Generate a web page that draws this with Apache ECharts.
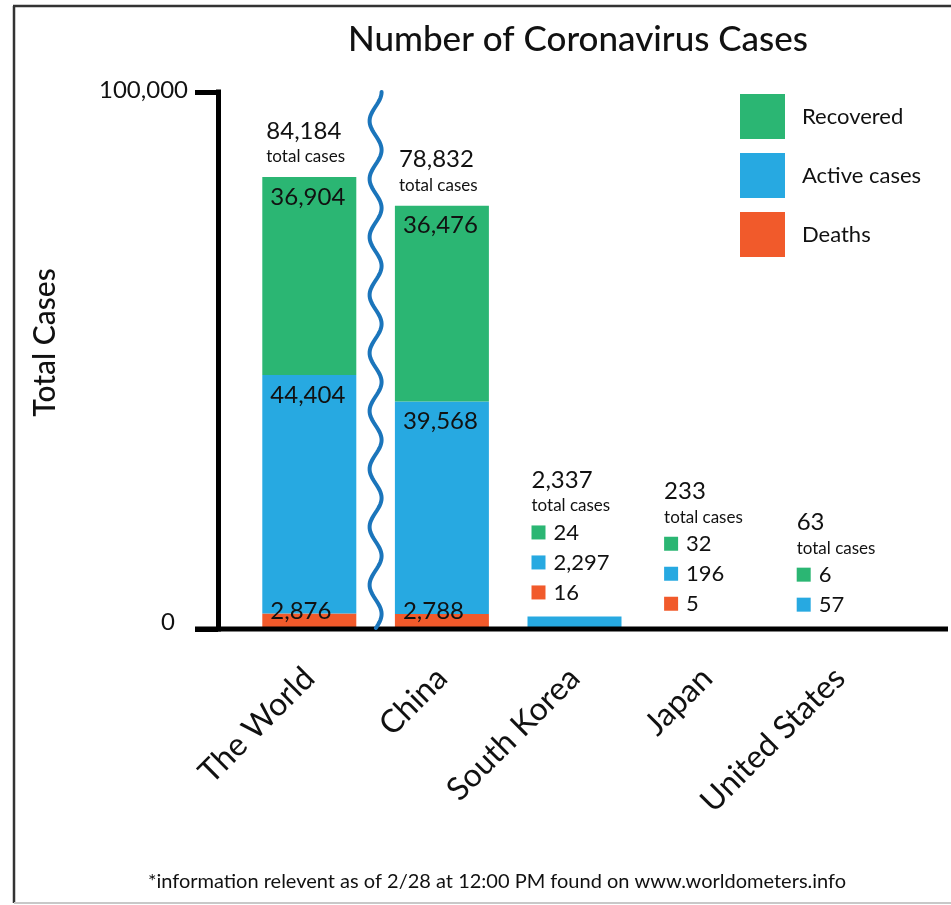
<!DOCTYPE html>
<html>
<head>
<meta charset="utf-8">
<title>Number of Coronavirus Cases</title>
<script src="https://cdn.jsdelivr.net/npm/echarts@6/dist/echarts.min.js"></script>
<style>
  html, body { margin: 0; padding: 0; background: #fff; }
  #chart { width: 951px; height: 905px; }
</style>
</head>
<body>
<div id="chart"></div>
<script>
// Case counts as of 2/28, 12:00 PM (worldometers.info)
const categories = ['The World', 'China', 'South Korea', 'Japan', 'United States'];
const deaths     = [2876, 2788, 16, 5, 0];
const active     = [44404, 39568, 2297, 196, 57];
const recovered  = [36904, 36476, 24, 32, 6];
const yTicks     = [0, 100000];

const totals = categories.map((_, i) => deaths[i] + active[i] + recovered[i]);

const COLORS = { recovered: '#2bb673', active: '#27a9e1', deaths: '#f15a2b' };
const FONT = 'Lato, "Noto Sans", sans-serif';
const INK = '#111';
const BAR_W = 94;
const Y_MAX = yTicks[yTicks.length - 1];
const fmt = n => n.toLocaleString('en-US');
// bars tall enough to carry their own segment labels
const isTall = i => totals[i] >= Y_MAX * 0.1;

const chart = echarts.init(document.getElementById('chart'), null, { renderer: 'canvas' });

function segment(name, data, color, position, offset) {
  return {
    name, type: 'bar', stack: 'cases', data,
    barWidth: BAR_W, barGap: '-100%',
    itemStyle: { color },
    emphasis: { disabled: true },
    label: {
      show: true, position, distance: 8, offset: offset || [0, 0],
      color: INK, fontFamily: FONT, fontSize: 24,
      formatter: p => (isTall(p.dataIndex) && p.value > 0) ? fmt(p.value) : ''
    }
  };
}

const option = {
  animation: false,
  backgroundColor: '#fff',
  grid: { left: 243, right: 45, top: 92, bottom: 276, containLabel: false, outerBoundsMode: 'none' },
  legend: {
    data: ['Recovered', 'Active cases', 'Deaths'],
    orient: 'vertical', left: 740, top: 94, padding: 0,
    itemWidth: 45, itemHeight: 45, itemGap: 14, icon: 'rect',
    selectedMode: false,
    textStyle: { fontFamily: FONT, fontSize: 22, color: INK, padding: [0, 0, 0, 12] }
  },
  xAxis: {
    type: 'category', data: categories,
    axisLine: { show: false }, axisTick: { show: false },
    axisLabel: { interval: 0, rotate: 45, margin: 44, fontFamily: FONT, fontSize: 32, color: INK }
  },
  yAxis: {
    type: 'value', min: 0, max: Y_MAX, interval: Y_MAX, offset: 25,
    splitLine: { show: false },
    axisLine: { show: true, lineStyle: { color: '#000', width: 5, cap: 'square' } },
    axisTick: { show: true, length: 23, customValues: yTicks, lineStyle: { color: '#000', width: 5 } },
    axisLabel: {
      margin: 30, customValues: yTicks, color: INK, fontFamily: FONT, fontSize: 24,
      formatter: v => v === 0 ? '{z|0}' : '{m|' + fmt(v) + '}',
      rich: {
        z: { fontFamily: FONT, fontSize: 24, color: INK, padding: [0, 13, 14, 0] },
        m: { fontFamily: FONT, fontSize: 24, color: INK, padding: [0, 0, 4, 0] }
      }
    },
    name: 'Total Cases', nameLocation: 'middle', nameGap: 158,
    nameTextStyle: { fontFamily: FONT, fontSize: 30, fontWeight: 500, color: INK, padding: [0, 0, 0, 36] }
  },
  series: [
    segment('Deaths', deaths, COLORS.deaths, 'insideLeft', [0, -10]),
    segment('Active cases', active, COLORS.active, 'insideTopLeft'),
    segment('Recovered', recovered, COLORS.recovered, 'insideTopLeft'),
    {
      name: 'Total', type: 'bar', data: totals,
      barWidth: BAR_W, barGap: '-100%', z: 1, silent: true,
      itemStyle: { color: 'rgba(0,0,0,0)' },
      label: {
        show: true, position: 'top', align: 'left', offset: [-BAR_W / 2 + 4, -4],
        formatter: p => {
          const i = p.dataIndex;
          const lines = ['{n|' + fmt(totals[i]) + '}', '{t|total cases}'];
          if (!isTall(i)) {
            [['g', recovered], ['b', active], ['o', deaths]].forEach(([k, arr]) => {
              if (arr[i] > 0) lines.push('{' + k + '|}{v|' + fmt(arr[i]) + '}');
            });
          }
          return lines.join('\n');
        },
        rich: {
          n: { fontFamily: FONT, fontSize: 24, lineHeight: 28, color: INK },
          t: { fontFamily: FONT, fontSize: 17, lineHeight: 23, color: INK },
          g: { backgroundColor: COLORS.recovered, width: 14, height: 14 },
          b: { backgroundColor: COLORS.active, width: 14, height: 14 },
          o: { backgroundColor: COLORS.deaths, width: 14, height: 14 },
          v: { fontFamily: FONT, fontSize: 22, lineHeight: 30, color: INK, padding: [0, 0, 0, 8] }
        }
      }
    }
  ]
};

chart.setOption(option);

// Decorations placed from the axes: baseline, break mark, frame, title, footnote
const y0 = chart.convertToPixel({ yAxisIndex: 0 }, 0);
const yTop = chart.convertToPixel({ yAxisIndex: 0 }, Y_MAX);
const xWorld = chart.convertToPixel({ xAxisIndex: 0 }, categories[0]);
const xChina = chart.convertToPixel({ xAxisIndex: 0 }, categories[1]);
const cx = (xWorld + xChina) / 2;

const wave = [];
for (let y = yTop; y <= y0; y += 2) {
  wave.push([cx + 6 * Math.cos(2 * Math.PI * (y - yTop) / 58), y]);
}

chart.setOption({
  graphic: [
    { type: 'line', shape: { x1: 14, y1: 6, x2: 14, y2: 903 }, style: { stroke: '#333', lineWidth: 2.5 } },
    { type: 'line', shape: { x1: 13, y1: 6, x2: 951, y2: 6 }, style: { stroke: '#333', lineWidth: 2.5 } },
    { type: 'line', shape: { x1: 14, y1: 903, x2: 951, y2: 903 }, style: { stroke: '#c8c8c8', lineWidth: 2 } },
    { type: 'line', z: 10, shape: { x1: 195, y1: y0, x2: 948, y2: y0 }, style: { stroke: '#000', lineWidth: 5 } },
    { type: 'polyline', z: 10, shape: { points: wave }, style: { stroke: '#1b75bb', lineWidth: 4, fill: null, lineCap: 'round' } },
    {
      type: 'text', x: 578, y: 40,
      style: { text: 'Number of Coronavirus Cases', align: 'center', verticalAlign: 'middle',
               fontFamily: FONT, fontSize: 35, fontWeight: 500, fill: INK }
    },
    {
      type: 'text', x: 497, y: 882,
      style: { text: '*information relevent as of 2/28 at 12:00 PM found on www.worldometers.info',
               align: 'center', verticalAlign: 'middle', fontFamily: FONT, fontSize: 20, fill: INK }
    }
  ]
});
</script>
</body>
</html>
